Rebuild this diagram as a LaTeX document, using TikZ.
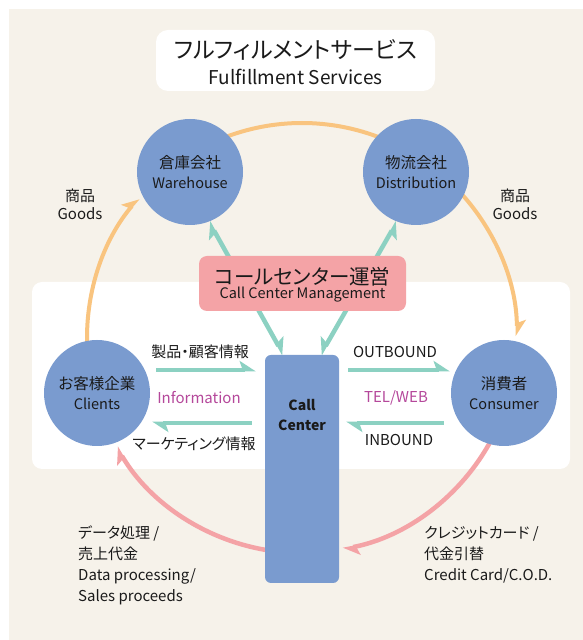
\documentclass[tikz,border=0pt]{standalone}
\usepackage{fontspec}
\setmainfont{Noto Sans CJK JP}[RawFeature=+palt]
\usetikzlibrary{arrows.meta,calc,positioning}
\definecolor{creme}{HTML}{F6F2EA}
\definecolor{bleu}{HTML}{7A9BCF}
\definecolor{rose}{HTML}{F4A3A6}
\definecolor{vert}{HTML}{8CD1C2}
\definecolor{jaune}{HTML}{F9C47F}
\definecolor{magen}{HTML}{B5489B}
\definecolor{encre}{HTML}{1A1A1A}
\begin{document}
\begin{tikzpicture}[x=1pt,y=1pt,text=encre,
    cercle/.style={circle, fill=bleu, minimum size=106pt, inner sep=0pt, align=center,
      font=\fontsize{15.5}{20}\selectfont},
    fleche/.style={line width=4.5pt, draw=vert, -{Stealth[harpoon,length=14pt,width=18pt,inset=3pt]}},
    diag/.style={line width=4.5pt, draw=vert, {Stealth[harpoon,length=14pt,width=18pt,inset=3pt]}-{Stealth[harpoon,length=14pt,width=18pt,inset=3pt]}},
    diagb/.style={line width=4.5pt, draw=vert, {Stealth[harpoon,swap,length=14pt,width=18pt,inset=3pt]}-{Stealth[harpoon,swap,length=14pt,width=18pt,inset=3pt]}},
    arcjaune/.style={line width=4pt, draw=jaune},
    arcrose/.style={line width=4.5pt, draw=rose},
    pointe/.style={-{Stealth[harpoon,length=14pt,width=18pt,inset=3pt]}},
    etiq/.style={font=\fontsize{15}{18}\selectfont},
    etiqen/.style={font=\fontsize{15}{18}\selectfont}]
  \useasboundingbox (0,0) rectangle (583,640);
  \fill[creme] (9,0) rectangle (583,631);
  \fill[white, rounded corners=10pt] (32,171) rectangle (570,358);

  % titre
  \node[fill=white, rounded corners=12pt, minimum width=279pt, minimum height=61pt] (titre) at (295.5,579.5) {};
  \node[font=\fontsize{23}{26}\selectfont] (titrejp) at (295.5,590) {フルフィルメントサービス};
  \node[font=\fontsize{19}{22}\selectfont] (titreen) at (295.5,563) {Fulfillment Services};

  % grand cercle des flux
  \coordinate (O) at (302,302);
  \draw[arcjaune] ($(O)+(112:215)$) arc[start angle=112, end angle=68, radius=215];
  \draw[arcjaune,pointe] ($(O)+(183:215)$) arc[start angle=183, end angle=139.5, radius=215];
  \draw[arcjaune,pointe] ($(O)+(45:215)$) arc[start angle=45, end angle=0.5, radius=215];
  \draw[arcrose,pointe] ($(O)+(262:215)$) arc[start angle=262, end angle=210.5, radius=215];
  \draw[arcrose,pointe] ($(O)+(-28:215)$) arc[start angle=-28, end angle=-79, radius=215];

  % acteurs
  \node[cercle] (wh) at (190,468) {倉庫会社\\{\fontsize{14.5}{20}\selectfont Warehouse}};
  \node[cercle] (di) at (416,468) {物流会社\\{\fontsize{14.5}{20}\selectfont Distribution}};
  \node[cercle] (cl) at (97,247) {お客様企業\\{\fontsize{14.5}{20}\selectfont Clients}};
  \node[cercle] (co) at (504,247) {消費者\\{\fontsize{14.5}{20}\selectfont Consumer}};
  \node[fill=bleu, rounded corners=6pt, minimum width=74pt, minimum height=228pt] (cc) at (302,171) {};
  \node[align=center, font=\bfseries\fontsize{14}{20}\selectfont] (cctxt) at ($(cc.north)+(0,-60)$) {Call\\Center};

  % gestion du centre d'appels
  \draw[diag] (wh.-69) -- ($(cc.north)!0.5!(cc.north west)$);
  \draw[diagb] (di.-111) -- ($(cc.north)!0.5!(cc.north east)$);
  \node[fill=rose, rounded corners=8pt, minimum width=207pt, minimum height=55pt] (ccm) at (302.5,356.5) {};
  \node[font=\fontsize{20.5}{22}\selectfont] (ccmjp) at ($(ccm.center)+(0,7)$) {コールセンター運営};
  \node[font=\fontsize{14.5}{16}\selectfont] (ccmen) at ($(ccm.center)+(0,-11)$) {Call Center Management};

  % echanges
  \coordinate (hautrang) at (0,270);
  \coordinate (basrang) at (0,217);
  \draw[fleche] ($(cl.east |- hautrang)+(6,0)$) -- ($(cc.west |- hautrang)+(-9,0)$);
  \draw[fleche] ($(cc.west |- basrang)+(-13,0)$) -- ($(cl.east |- basrang)+(2,0)$);
  \draw[fleche] ($(cc.east |- hautrang)+(9,0)$) -- ($(co.west |- hautrang)+(-1,0)$);
  \draw[fleche] ($(co.west |- basrang)+(-7,0)$) -- ($(cc.east |- basrang)+(7,0)$);

  \node[etiq] (prod) at (200,288) {製品・顧客情報};
  \node[etiqen, text=magen] (info) at (199,242) {Information};
  \node[etiq] (mark) at (194,196) {マーケティング情報};
  \node[etiqen] (outb) at (395,288) {OUTBOUND};
  \node[etiqen, text=magen] (tel) at (396,242) {TEL/WEB};
  \node[etiqen] (inb) at (399,200) {INBOUND};

  \node[align=center, font=\fontsize{15}{18}\selectfont] (goodsg) at (80,436) {商品\\Goods};
  \node[align=center, font=\fontsize{15}{18}\selectfont] (goodsd) at (515,436) {商品\\Goods};

  \node[anchor=north west, align=left, inner sep=0pt, font=\fontsize{15}{21}\selectfont]
    (data) at (78,114) {データ処理 /\\売上代金\\Data processing/\\Sales proceeds};
  \node[anchor=north west, align=left, inner sep=0pt, font=\fontsize{15}{21}\selectfont]
    (cred) at (424,114) {クレジットカード /\\代金引替\\Credit Card/C.O.D.};
\end{tikzpicture}
\end{document}
